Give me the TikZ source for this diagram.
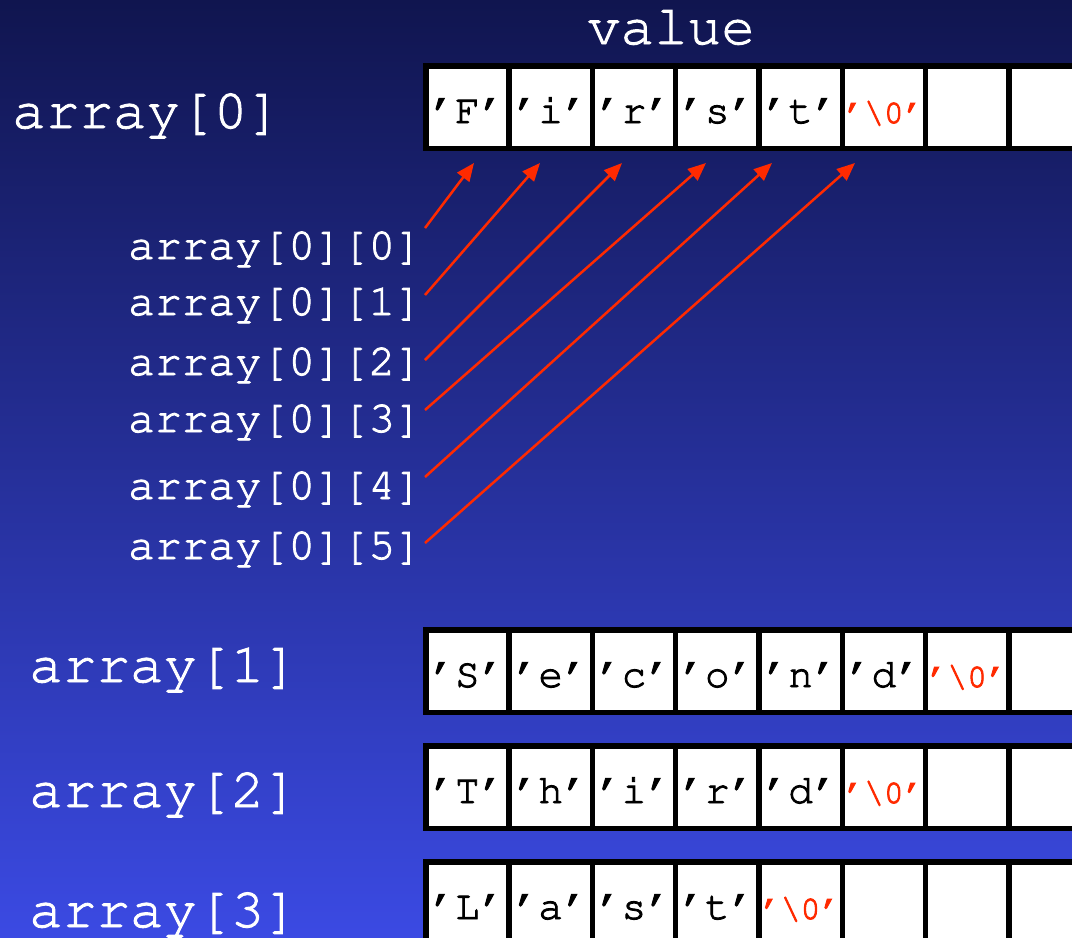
\documentclass[tikz,border=0pt]{standalone}
\usepackage[T1,TU]{fontenc}
\usetikzlibrary{arrows.meta}

\definecolor{bgtop}{HTML}{10154F}
\definecolor{bgbot}{HTML}{3B4AE3}
\definecolor{ptrred}{HTML}{FF2A00}

% Courier (URW) in T1 encoding at a given size, outlined a little for weight
\newcommand\courier[1]{\fontencoding{T1}\fontfamily{pcr}\fontseries{m}\fontshape{n}\fontsize{#1}{#1}\selectfont
  \special{pdf:literal direct 2 Tr 0.9 w}}
\newcommand\ch[1]{'#1'}
\newcommand\nulch{{\color{ptrred}\courier{33}'\textbackslash 0'}}

% one row of character cells: #1 row index, #2 top edge, #3 contents
\newcommand\cellrow[3]{%
  \foreach \txt [count=\i from 0] in {#3} {
    \node[cellbox] (r#1c\i) at ({423+83.3*\i},#2) {\txt};
  }}

\begin{document}
\begin{tikzpicture}[x=1pt,y=-1pt,
  cellbox/.style={draw=black, fill=white, line width=5.5pt,
    minimum width=83.3pt, minimum height=82.5pt, inner sep=0pt,
    text height=36pt, text depth=4pt, anchor=north west,
    font=\courier{41}, text=black},
  biglabel/.style={text=white, inner sep=0pt, anchor=base west, font=\courier{56}},
  sublabel/.style={text=white, inner sep=0pt, anchor=base west, font=\courier{44.5}},
  ptr/.style={draw=ptrred, line width=2.5pt, -{Triangle[length=18pt,width=15pt]}}]

\useasboundingbox (0,0) rectangle (1072,938);
\shade[top color=bgtop, bottom color=bgbot] (0,0) rectangle (1072,938);
\clip (0,0) rectangle (1072,938);

% heading
\node[text=white, inner sep=0pt, anchor=base, font=\courier{56}] (value) at (671,44) {value};

% row labels
\node[biglabel] (a0) at (12,128) {array[0]};
\node[biglabel] (a1) at (29,682) {array[1]};
\node[biglabel] (a2) at (29,807) {array[2]};
\node[biglabel] (a3) at (29,927) {array[3]};

% character cells
\cellrow{0}{63}{\ch{F},\ch{i},\ch{r},\ch{s},\ch{t},\nulch,{},{}}
\cellrow{1}{627}{\ch{S},\ch{e},\ch{c},\ch{o},\ch{n},\ch{d},\nulch,{}}
\cellrow{2}{743}{\ch{T},\ch{h},\ch{i},\ch{r},\ch{d},\nulch,{},{}}
\cellrow{3}{859}{\ch{L},\ch{a},\ch{s},\ch{t},\nulch,{},{},{}}

% element labels
\node[sublabel] (e0) at (128,259) {array[0][0]};
\node[sublabel] (e1) at (128,315) {array[0][1]};
\node[sublabel] (e2) at (128,375) {array[0][2]};
\node[sublabel] (e3) at (128,432) {array[0][3]};
\node[sublabel] (e4) at (128,499) {array[0][4]};
\node[sublabel] (e5) at (128,559) {array[0][5]};

% pointer tails (beside the element labels) and heads (below the cells)
\coordinate (s0) at (425,228); \coordinate (t0) at (474,163);
\coordinate (s1) at (425,295); \coordinate (t1) at (540,163);
\coordinate (s2) at (425,360); \coordinate (t2) at (622,163);
\coordinate (s3) at (425,410); \coordinate (t3) at (706,163);
\coordinate (s4) at (425,477); \coordinate (t4) at (772,163);
\coordinate (s5) at (425,543); \coordinate (t5) at (855,163);
\foreach \k in {0,...,5} { \draw[ptr] (s\k) -- (t\k); }
\end{tikzpicture}
\end{document}
